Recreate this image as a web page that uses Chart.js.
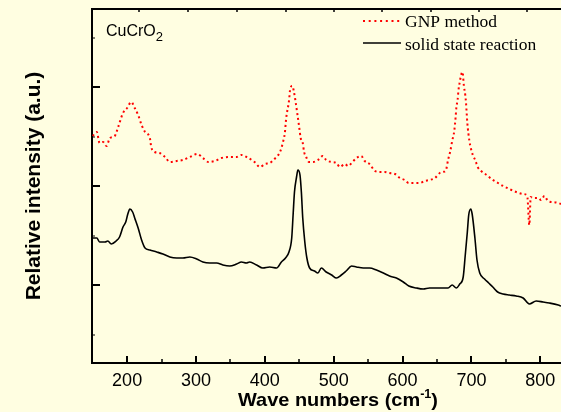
<!DOCTYPE html>
<html>
<head>
<meta charset="utf-8">
<title>CuCrO2 Raman spectra</title>
<script src="https://cdn.jsdelivr.net/npm/chart.js@4.4.1/dist/chart.umd.min.js"></script>
<style>
  html, body { margin: 0; padding: 0; background: #fffee1; }
  canvas { display: block; }
</style>
</head>
<body>
<canvas id="raman" width="561" height="412"></canvas>
<script>
// GNP method sample: wave number (cm-1) and relative intensity (a.u.)
const gnpWave = [
  150, 156, 160, 165, 170, 175, 182, 187, 194, 200,
  206, 211, 216, 221, 226, 233, 235, 240, 247, 255,
  262, 272, 281, 291, 302, 310, 318, 327, 337, 349,
  359, 366, 376, 385, 393, 400, 407, 414, 422, 426,
  429, 431, 435, 437, 440, 442, 444, 447, 450, 452,
  455, 457, 460, 464, 470, 477, 484, 489, 497, 504,
  509, 516, 521, 526, 533, 540, 545, 552, 560, 567,
  574, 581, 589, 596, 603, 609, 618, 625, 632, 639,
  647, 654, 659, 663, 666, 669, 672, 675, 677, 678,
  680, 681, 683, 685, 687, 689, 691, 692, 694, 697,
  699, 702, 706, 709, 714, 722, 729, 736, 746, 755,
  765, 775, 781, 784, 786, 789, 797, 801, 806, 811,
  818, 826, 830
];
const gnpIntensity = [
  149, 153, 142, 143, 139, 147, 149, 158, 172, 177,
  183, 177, 170, 160, 153, 147, 138, 133, 132, 128,
  123, 124, 125, 128, 131, 127, 123, 124, 127, 128,
  128, 130, 127, 123, 118, 121, 122, 126, 133, 142,
  152, 167, 184, 197, 199, 194, 186, 172, 157, 147,
  142, 133, 128, 123, 123, 125, 129, 125, 123, 122,
  118, 121, 119, 122, 127, 129, 124, 121, 114, 113,
  113, 112, 111, 107, 105, 102, 102, 102, 104, 105,
  107, 112, 113, 115, 125, 133, 144, 154, 168, 177,
  186, 194, 203, 210, 213, 199, 190, 183, 162, 144,
  137, 130, 124, 118, 114, 110, 106, 103, 99, 96,
  93, 91, 89, 60, 88, 87, 87, 85, 89, 84,
  83, 82, 81
];

// solid state reaction sample
const ssrWave = [
  150, 156, 160, 168, 172, 177, 184, 189, 194, 198,
  201, 204, 208, 211, 216, 221, 226, 233, 243, 252,
  262, 272, 281, 291, 301, 310, 320, 330, 339, 349,
  359, 366, 373, 378, 388, 397, 407, 417, 424, 430,
  435, 439, 441, 443, 446, 448, 451, 453, 455, 458,
  461, 465, 472, 477, 482, 489, 497, 504, 511, 518,
  526, 533, 543, 552, 562, 572, 581, 591, 601, 609,
  620, 630, 639, 649, 659, 666, 672, 678, 683, 688,
  691, 694, 696, 699, 701, 705, 708, 712, 719, 725,
  731, 738, 746, 755, 765, 775, 784, 794, 804, 813,
  826, 830
];
const ssrIntensity = [
  47, 47, 43, 43, 44, 41, 44, 48, 58, 63,
  71, 76, 73, 67, 57, 45, 37, 35, 33, 31,
  28, 27, 27, 28, 26, 23, 22, 22, 20, 19,
  21, 23, 22, 23, 20, 17, 18, 17, 23, 27,
  33, 47, 70, 93, 108, 115, 110, 93, 67, 43,
  27, 17, 14, 12, 17, 13, 10, 7, 10, 14,
  19, 18, 17, 17, 15, 12, 9, 7, 3, -1,
  -3, -4, -3, -3, -3, -3, 0, -3, 1, 8,
  30, 53, 70, 76, 71, 47, 25, 12, 6, 2,
  -2, -7, -9, -10, -11, -13, -19, -16, -17, -18,
  -20, -21
];

// axis ticks (all drawn on the inside of the frame)
const xTicks = [200, 300, 400, 500, 600, 700, 800];
const xMinorTicks = [250, 350, 450, 550, 650, 750];
const topTicks = [217, 288, 359, 430, 500, 570, 641, 711, 780];
const yTicks = [0, 99, 198];
const yMinorTicks = [-49.5, 49.5, 148.5, 247.5];

const X_MIN = 149, X_MAX = 830;
const Y_MIN = -78, Y_MAX = 276;

const SANS = '"Liberation Sans", Arial, sans-serif';
const SERIF = '"Liberation Serif", "Times New Roman", serif';

const toPoints = (xs, ys) => xs.map((x, i) => ({ x, y: ys[i] }));

// draws a run of text pieces (for sub/superscripts)
function drawRich(ctx, parts, x, y, align) {
  let w = 0;
  parts.forEach(([t, f]) => { ctx.font = f; w += ctx.measureText(t).width; });
  let cx = align === 'center' ? x - w / 2 : x;
  parts.forEach(([t, f, dy]) => {
    ctx.font = f;
    ctx.fillText(t, cx, y + (dy || 0));
    cx += ctx.measureText(t).width;
  });
}

const innerTicks = {
  id: 'innerTicks',
  afterDatasetsDraw(chart) {
    const { ctx, chartArea: a, scales: { x, y } } = chart;
    const line = (x1, y1, x2, y2, w) => {
      ctx.lineWidth = w;
      ctx.beginPath();
      ctx.moveTo(x1, y1);
      ctx.lineTo(x2, y2);
      ctx.stroke();
    };
    ctx.save();
    ctx.strokeStyle = '#000';
    xTicks.forEach(v => {
      const px = Math.round(x.getPixelForValue(v));
      line(px, a.bottom, px, a.bottom - 7, 2);
    });
    xMinorTicks.forEach(v => {
      const px = Math.round(x.getPixelForValue(v));
      line(px, a.bottom, px, a.bottom - 4, 1.5);
    });
    topTicks.forEach(v => {
      const px = Math.round(x.getPixelForValue(v));
      line(px, a.top, px, a.top + 3, 1.5);
    });
    yTicks.forEach(v => {
      const py = Math.round(y.getPixelForValue(v));
      line(a.left, py, a.left + 8, py, 2);
    });
    yMinorTicks.forEach(v => {
      const py = Math.round(y.getPixelForValue(v));
      line(a.left, py, a.left + 3, py, 1);
    });
    ctx.restore();
  }
};

const annotations = {
  id: 'annotations',
  afterDraw(chart) {
    const { ctx } = chart;
    const ds = chart.data.datasets;
    ctx.save();
    ctx.fillStyle = '#000';
    ctx.textBaseline = 'alphabetic';

    // sample name
    drawRich(ctx, [
      ['CuCrO', '16px ' + SANS],
      ['2', '13px ' + SANS, 5]
    ], 106, 36, 'left');

    // legend
    const rows = [{ y: 21, d: ds[0], dash: [2, 3.7] }, { y: 43, d: ds[1], dash: [] }];
    rows.forEach(r => {
      ctx.strokeStyle = r.d.borderColor;
      ctx.lineWidth = r.d.borderWidth;
      ctx.setLineDash(r.dash);
      ctx.beginPath();
      ctx.moveTo(363, r.y);
      ctx.lineTo(401, r.y);
      ctx.stroke();
    });
    ctx.setLineDash([]);
    ctx.font = '17.5px ' + SERIF;
    ctx.fillText(ds[0].label, 405, 27);
    ctx.fillText(ds[1].label, 405, 49.5);

    // x axis title
    ctx.save();
    ctx.translate(338, 406);
    ctx.scale(1.05, 1);
    drawRich(ctx, [
      ['Wave numbers (cm', 'bold 19px ' + SANS],
      ['-1', 'bold 12px ' + SANS, -8],
      [')', 'bold 19px ' + SANS]
    ], 0, 0, 'center');
    ctx.restore();

    // y axis title
    ctx.translate(34, 186);
    ctx.rotate(-Math.PI / 2);
    ctx.scale(1.05, 1);
    ctx.textAlign = 'center';
    ctx.textBaseline = 'middle';
    ctx.font = 'bold 20px ' + SANS;
    ctx.fillText('Relative intensity (a.u.)', 0, 0);
    ctx.restore();
  }
};

const frame = { color: '#000', width: 2 };

new Chart(document.getElementById('raman'), {
  type: 'line',
  data: {
    datasets: [
      {
        label: 'GNP method',
        data: toPoints(gnpWave, gnpIntensity),
        borderColor: '#ff0000',
        borderWidth: 2,
        borderDash: [2, 3],
        pointRadius: 0,
        cubicInterpolationMode: 'monotone',
        fill: false
      },
      {
        label: 'solid state reaction',
        data: toPoints(ssrWave, ssrIntensity),
        borderColor: '#000000',
        borderWidth: 1.6,
        pointRadius: 0,
        cubicInterpolationMode: 'monotone',
        fill: false
      }
    ]
  },
  options: {
    responsive: false,
    animation: false,
    events: [],
    layout: { padding: { left: 92, top: 9, right: 0, bottom: 13 } },
    plugins: {
      legend: { display: false },
      tooltip: { enabled: false }
    },
    scales: {
      x: {
        type: 'linear',
        min: X_MIN,
        max: X_MAX,
        afterBuildTicks: s => { s.ticks = xTicks.map(value => ({ value })); },
        grid: { display: false, drawTicks: false },
        border: frame,
        ticks: {
          color: '#000',
          padding: 0,
          maxRotation: 0,
          autoSkip: false,
          font: { family: SANS, size: 18, lineHeight: 2 }
        }
      },
      xTop: {
        type: 'linear',
        position: 'top',
        min: X_MIN,
        max: X_MAX,
        grid: { display: false, drawTicks: false },
        border: frame,
        ticks: { display: false }
      },
      y: {
        type: 'linear',
        min: Y_MIN,
        max: Y_MAX,
        grid: { display: false, drawTicks: false },
        border: frame,
        ticks: { display: false }
      }
    }
  },
  plugins: [innerTicks, annotations]
});
</script>
</body>
</html>
